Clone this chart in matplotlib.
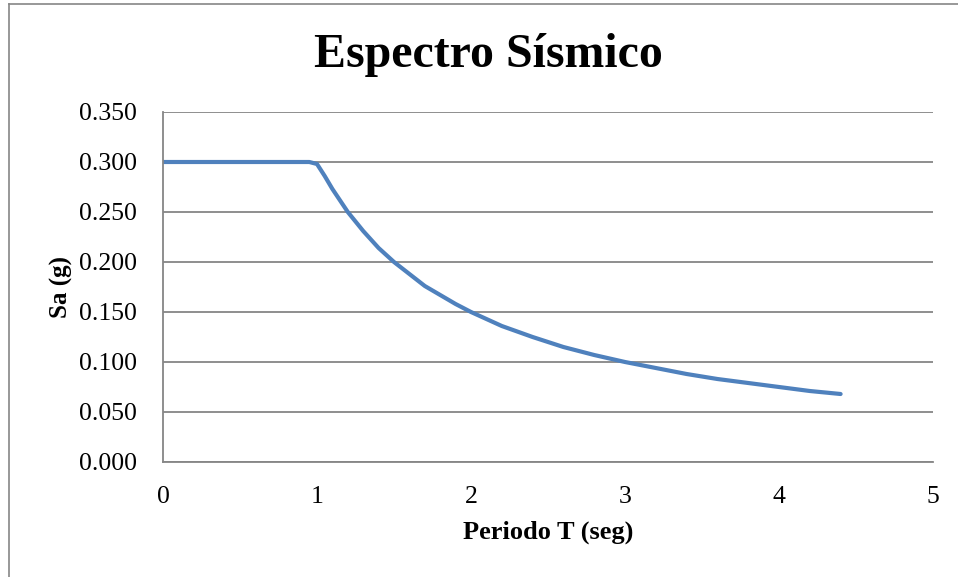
import matplotlib.pyplot as plt
from matplotlib.lines import Line2D

plt.rcParams["font.family"] = ["Liberation Serif", "DejaVu Serif"]

# Periodo T (seg) and spectral acceleration Sa (g)
periodo = [0.0, 0.5, 0.95, 1.0, 1.05, 1.1, 1.2, 1.3, 1.4, 1.5, 1.6, 1.7, 1.8, 1.9, 2.0,
           2.2, 2.4, 2.6, 2.8, 3.0, 3.2, 3.4, 3.6, 3.8, 4.0, 4.2, 4.4]
sa = [0.300, 0.300, 0.300, 0.298, 0.286, 0.273, 0.250, 0.231, 0.214, 0.200, 0.188, 0.176,
      0.167, 0.158, 0.150, 0.136, 0.125, 0.115, 0.107, 0.100, 0.094, 0.088, 0.083, 0.079,
      0.075, 0.071, 0.068]

y_ticks = [0.0, 0.05, 0.10, 0.15, 0.20, 0.25, 0.30, 0.35]
x_ticks = [0, 1, 2, 3, 4, 5]

fig = plt.figure(figsize=(9.58, 5.77), dpi=100)
ax = fig.add_axes([163 / 958, 1 - 462 / 577, (933 - 163) / 958, (462 - 112) / 577])

ax.plot(periodo, sa, color="#4F81BD", lw=3, solid_capstyle="round", solid_joinstyle="round")

ax.set_xlim(0, 5)
ax.set_ylim(0, 0.35)
ax.set_xticks(x_ticks)
ax.set_yticks(y_ticks)
ax.set_yticklabels([f"{v:.3f}" for v in y_ticks])
ax.tick_params(length=0, labelsize=18.5)
ax.tick_params(axis="y", pad=19)
ax.tick_params(axis="x", pad=17)

ax.grid(axis="y", color="#868686", lw=1.3)
ax.set_axisbelow(True)
for s in ["top", "right"]:
    ax.spines[s].set_visible(False)
for s in ["left", "bottom"]:
    ax.spines[s].set_color("#868686")
    ax.spines[s].set_linewidth(1.3)

ax.set_xlabel("Periodo T (seg)", fontsize=19, fontweight="bold", labelpad=9)
ax.set_ylabel("Sa (g)", fontsize=18, fontweight="bold", labelpad=4)
fig.text(488 / 958, 1 - 55 / 577, "Espectro Sísmico", fontsize=34.5, fontweight="bold",
         ha="center", va="center")

# outer chart border (only left and top visible in the crop)
fig.add_artist(Line2D([9 / 958, 9 / 958], [0, 1 - 4 / 577], color="#868686", lw=1.2))
fig.add_artist(Line2D([9 / 958, 1], [1 - 4 / 577, 1 - 4 / 577], color="#868686", lw=1.2))

fig.savefig("out.png", dpi=100)
